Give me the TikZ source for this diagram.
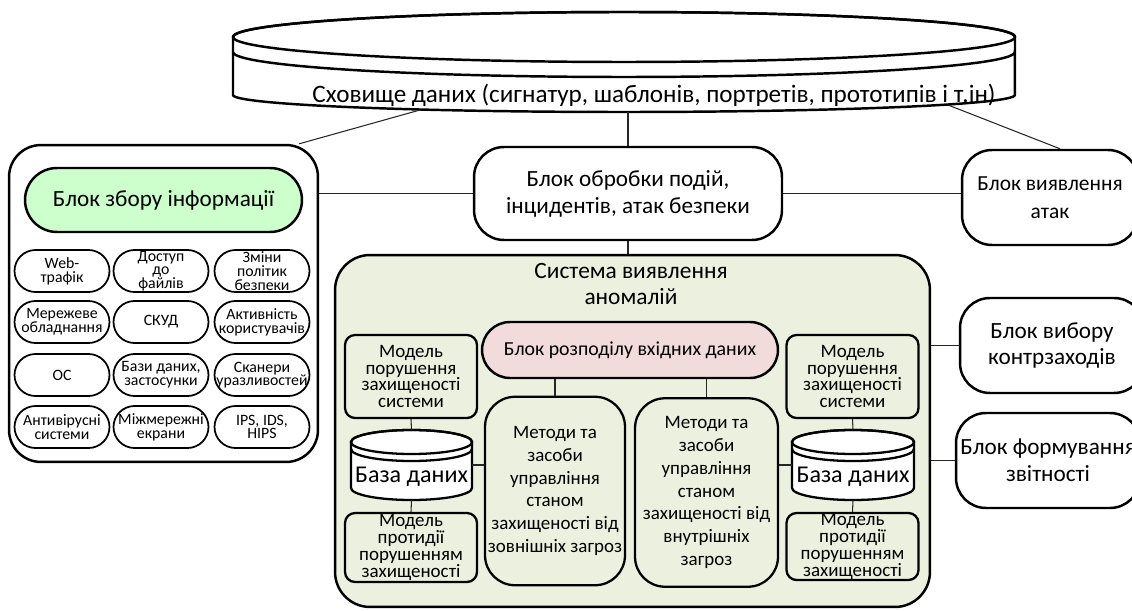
\documentclass[tikz,border=0pt]{standalone}
\usepackage{fontspec}
\setmainfont{Carlito}
\definecolor{infogreen}{RGB}{204,255,204}
\definecolor{anomfill}{RGB}{235,241,222}
\definecolor{distpink}{RGB}{242,220,219}
\newcommand{\fsz}[2]{\fontsize{#1}{#2}\selectfont}
\begin{document}
\begin{tikzpicture}[x=0.02cm, y=-0.02cm, every node/.style={font=\fsz{13.2}{15.3}},
  blk/.style={draw,line width=1.4pt,fill=white,rounded corners=0.6cm,align=center,inner sep=0pt},
  pill/.style={draw,line width=1.4pt,align=center,inner sep=0pt},
  src/.style={draw,line width=1pt,fill=white,rounded corners=0.42cm,minimum width=1.9cm,minimum height=0.84cm,align=center,inner sep=0pt,font=\fsz{9}{7.8}},
  model/.style={draw,line width=1.3pt,rounded corners=0.2cm,minimum width=2.64cm,align=center,inner sep=0pt,font=\fsz{10.8}{9.6}},
  meth/.style={draw,line width=1.3pt,rounded corners=0.6cm,minimum height=3.77cm,align=center,inner sep=0pt,font=\fsz{10.8}{13}},
  dbcyl/.style={minimum width=2.42cm,minimum height=1.4cm,inner sep=0pt,font=\fsz{13.7}{15}},
  link/.style={line width=0.6pt,black!85}]
\useasboundingbox (0,0) rectangle (1132,611);
\clip (0,0) rectangle (1132,611);
% storage
\draw[line width=1.4pt,fill=white] (233,37) -- (233,95) arc[start angle=180,end angle=360,x radius=7.82cm,y radius=0.34cm] -- (1015,37) arc[start angle=0,end angle=180,x radius=7.82cm,y radius=0.5cm] -- cycle;
\draw[line width=1.4pt] (624,37) ellipse[x radius=7.82cm,y radius=0.5cm];
\draw[line width=1.4pt] (233,52) arc[start angle=180,end angle=360,x radius=7.82cm,y radius=0.5cm];
\node[font=\fsz{14.3}{16}] (store) at (654,95) {Сховище даних (сигнатур, шаблонів, портретів, прототипів і т.ін)};
\coordinate (storeL) at (420,110); \coordinate (storeM) at (628,112); \coordinate (storeR) at (948,105);
% information collection
\node[blk,rounded corners=0.64cm,minimum width=6.18cm,minimum height=6.34cm] (info) at (163.5,303.5) {};
\node[pill,fill=infogreen,rounded corners=0.64cm,minimum width=5.54cm,minimum height=1.28cm,font=\fsz{13.2}{15}] (collect) at (163.5,200) {Блок збору інформації};
\node[src] (web) at (62,271) {Web-\\трафік};
\node[src] (files) at (161,271) {Доступ\\до\\файлів};
\node[src] (policy) at (262,271) {Зміни\\політик\\безпеки};
\node[src] (net) at (62,322) {Мережеве\\обладнання};
\node[src] (skud) at (161,322) {СКУД};
\node[src] (users) at (262,322) {Активність\\користувачів};
\node[src] (os) at (62,375) {ОС};
\node[src] (dbapp) at (161,375) {Бази даних,\\застосунки};
\node[src] (scan) at (262,375) {Сканери\\уразливостей};
\node[src] (av) at (62,427) {Антивірусні\\системи};
\node[src] (fw) at (161,427) {Міжмережні\\екрани};
\node[src] (ips) at (262,427) {IPS, IDS,\\HIPS};
% processing and detection
\node[blk,minimum width=6.16cm,minimum height=1.86cm] (proc) at (628,193.5) {Блок обробки подій,\\інцидентів, атак безпеки};
\node[blk,minimum width=3.52cm,minimum height=1.9cm,font=\fsz{12.2}{16}] (det) at (1050,197.5) {Блок виявлення\\атак};
\node[blk,minimum width=3.68cm,minimum height=1.9cm] (ctr) at (1052,345.5) {Блок вибору\\контрзаходів};
\node[blk,minimum width=3.68cm,minimum height=1.9cm] (rep) at (1048,460.5) {Блок формування\\звітності};
% anomaly system
\node[blk,fill=anomfill,rounded corners=0.7cm,minimum width=11.9cm,minimum height=7.04cm] (anom) at (632.5,431) {};
\node[align=center,font=\fsz{13.3}{14.7}] (anomtitle) at (631,284) {Система виявлення\\аномалій};
\node[pill,fill=distpink,rounded corners=0.56cm,minimum width=5.92cm,minimum height=1.12cm,font=\fsz{11.3}{13}] (dist) at (630,350) {Блок розподілу вхідних даних};
\node[model,minimum height=1.66cm] (model1) at (411,376.5) {Модель\\порушення\\захищеності\\системи};
\node[model,minimum height=1.38cm] (counter1) at (411,547.5) {Модель\\протидії\\порушенням\\захищеності};
\node[model,minimum height=1.66cm] (model2) at (852.5,376.5) {Модель\\порушення\\захищеності\\системи};
\node[model,minimum height=1.34cm] (counter2) at (852.5,546.5) {Модель\\протидії\\порушенням\\захищеності};
\node[meth,minimum width=2.8cm] (meth1) at (555,491) {Методи та\\засоби\\управління\\станом\\захищеності від\\зовнішніх загроз};
\node[meth,minimum width=2.86cm] (meth2) at (706.5,492.5) {Методи та\\засоби\\управління\\станом\\захищеності від\\внутрішніх\\загроз};
% databases
\draw[line width=1.3pt,fill=white] (351,442) -- (351,488) arc[start angle=180,end angle=360,x radius=1.21cm,y radius=0.24cm] -- (472,442) arc[start angle=0,end angle=180,x radius=1.21cm,y radius=0.24cm] -- cycle;
\draw[line width=1.3pt] (411.5,442) ellipse[x radius=1.21cm,y radius=0.24cm];
\draw[line width=1.3pt] (351,449) arc[start angle=180,end angle=360,x radius=1.21cm,y radius=0.24cm];
\node[dbcyl] (db1) at (411.5,465) {\raisebox{-10pt}[0pt][0pt]{База даних}};
\draw[line width=1.3pt,fill=white] (792,442) -- (792,488) arc[start angle=180,end angle=360,x radius=1.22cm,y radius=0.24cm] -- (914,442) arc[start angle=0,end angle=180,x radius=1.22cm,y radius=0.24cm] -- cycle;
\draw[line width=1.3pt] (853,442) ellipse[x radius=1.22cm,y radius=0.24cm];
\draw[line width=1.3pt] (792,449) arc[start angle=180,end angle=360,x radius=1.22cm,y radius=0.24cm];
\node[dbcyl] (db2) at (853,465) {\raisebox{-10pt}[0pt][0pt]{База даних}};
% connectors
\draw[link] (storeL) -- ([xshift=-0.4cm]info.north east);
\draw[link] (storeM) -- (proc.north);
\draw[link] (storeR) -- ([xshift=0.2cm]det.north);
\draw[link] (proc.west) -- (proc.west -| info.east);
\draw[link] (proc.east) -- (proc.east -| det.west);
\draw[link] (proc.south) -- (proc.south |- anom.north);
\draw[link] (meth1.north) -- (meth1.north |- dist.south);
\draw[link] (meth2.north) -- (meth2.north |- dist.south);
\draw[link] (model1.south) -- (db1.north); \draw[link] (db1.south) -- (counter1.north);
\draw[link] (model2.south) -- (db2.north); \draw[link] (db2.south) -- (counter2.north);
\draw[link] (db1.east) -- (db1.east -| meth1.west);
\draw[link] (db2.west) -- (db2.west -| meth2.east);
\draw[link] (ctr.west) -- (ctr.west -| anom.east);
\draw[link] (rep.west) -- (rep.west -| anom.east);
\end{tikzpicture}
\end{document}
